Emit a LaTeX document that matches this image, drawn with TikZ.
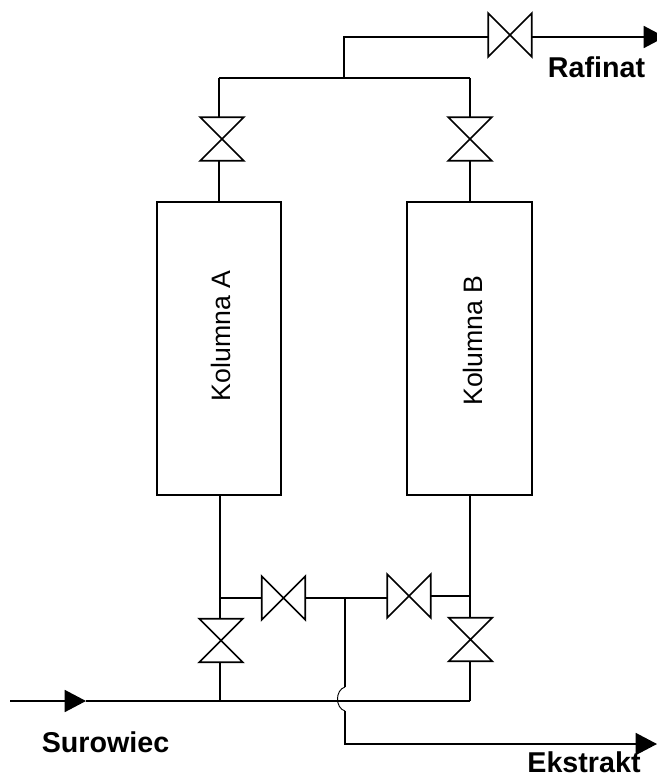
\documentclass[tikz,border=0pt]{standalone}
\usepackage{fontspec}
\setmainfont{Liberation Sans}
\usetikzlibrary{arrows.meta}
\tikzset{
    valveh/.style={minimum size=32.5pt, inner sep=0pt, outer sep=0pt,
        append after command={(\tikzlastnode.north west) -- (\tikzlastnode.south west) -- (\tikzlastnode.north east) -- (\tikzlastnode.south east) -- cycle}},
    valvev/.style={minimum size=32.5pt, inner sep=0pt, outer sep=0pt,
        append after command={(\tikzlastnode.north west) -- (\tikzlastnode.north east) -- (\tikzlastnode.south west) -- (\tikzlastnode.south east) -- cycle}},
    column/.style={draw, minimum height=219.75pt, inner sep=0pt, outer sep=0pt},
    stream/.style={font=\bfseries\fontsize{21.5}{24}\selectfont, inner sep=0pt},
    collabel/.style={rotate=90, font=\fontsize{20}{22}\selectfont, inner sep=0pt},
    flow/.style={-{Triangle[length=16pt, width=16.5pt]}}
}
\begin{document}
\begin{tikzpicture}[x=0.75pt, y=-0.75pt, line width=1.3pt]
    \useasboundingbox (0, 0) rectangle (657, 775);
    % kolumny
    \node[column, minimum width=93pt] (KA) at (219, 348.5) {};
    \node[column, minimum width=93.75pt] (KB) at (469.5, 348.5) {};
    \node[collabel] (LA) at (221, 336) {Kolumna A};
    \node[collabel] (LB) at (473, 340.5) {Kolumna B};
    % zawory
    \draw (510, 35) node[valveh] (VR) {};
    \draw (222, 139) node[valvev] (VAT) {};
    \draw (470, 139) node[valvev] (VBT) {};
    \draw (283.5, 598) node[valveh] (VAE) {};
    \draw (409, 596) node[valveh] (VBE) {};
    \draw (221, 640.5) node[valvev] (VAS) {};
    \draw (470.5, 639.5) node[valvev] (VBS) {};
    % punkty
    \coordinate (TA) at (219, 78);
    \coordinate (TB) at (470, 78);
    \coordinate (TM) at (344, 78);
    \coordinate (TR) at (344, 37);
    \coordinate (RE) at (665, 37);
    \coordinate (SS) at (10, 701);
    \coordinate (SM) at (86, 701);
    \coordinate (SA) at (220, 701);
    \coordinate (SB) at (470, 701);
    \coordinate (EM) at (345, 598);
    \coordinate (EU) at (345, 687);
    \coordinate (ED) at (345, 711);
    \coordinate (EC) at (345, 744);
    \coordinate (EE) at (657, 744);
    % rurociagi
    \draw (TA) -- (TB);
    \draw (TM) -- (TR) -- (TR -| VR.west);
    \draw[flow] (TR -| VR.east) -- (RE);
    \draw (TA) -- (TA |- VAT.north);
    \draw (TA |- VAT.south) -- (TA |- KA.north);
    \draw (TB) -- (TB |- VBT.north);
    \draw (TB |- VBT.south) -- (TB |- KB.north);
    \draw (SA |- KA.south) -- (SA |- VAS.north);
    \draw (SA |- VAS.south) -- (SA);
    \draw (SB |- KB.south) -- (SB |- VBS.north);
    \draw (SB |- VBS.south) -- (SB);
    \draw (SA |- VAE.west) -- (VAE.west);
    \draw (VAE.east) -- (VBE.west |- VAE.east);
    \draw (VBE.east) -- (SB |- VBE.east);
    \draw[flow] (SS) -- (SM);
    \draw (SM) -- (SB);
    % odbior ekstraktu
    \draw (EM) -- (EU);
    \draw[line width=0.7pt] (EU) .. controls (335, 690) and (335, 708) .. (ED);
    \draw[flow] (ED) -- (EC) -- (EE);
    % opisy
    \node[stream] (NR) at (596.5, 67) {Rafinat};
    \node[stream] (NS) at (105.5, 742) {Surowiec};
    \node[stream] (NE) at (584, 762) {Ekstrakt};
\end{tikzpicture}
\end{document}
